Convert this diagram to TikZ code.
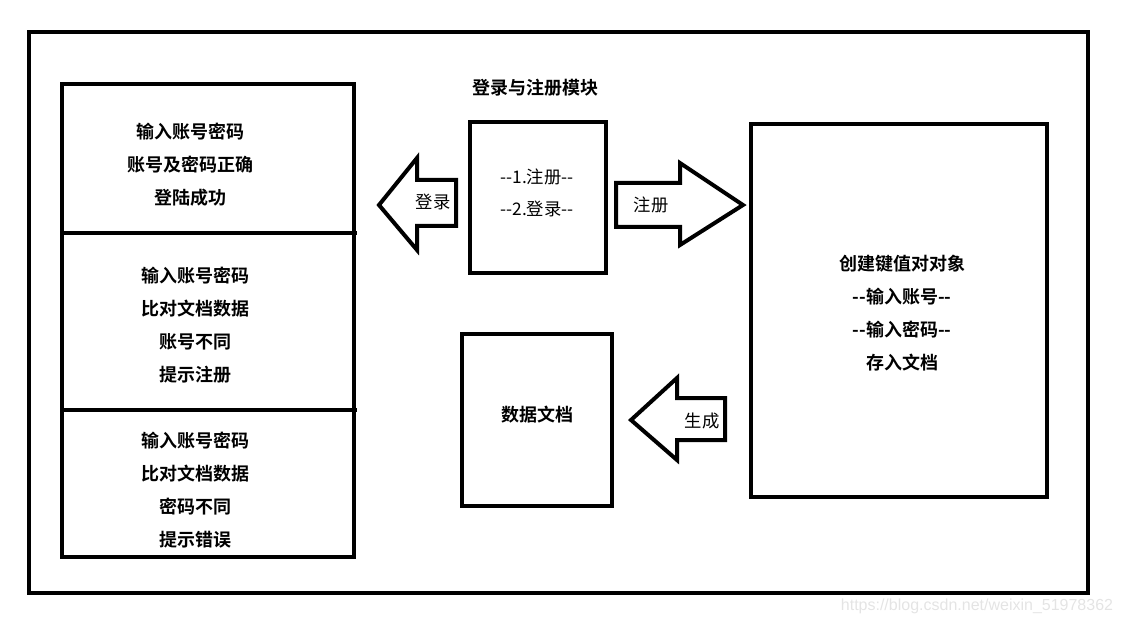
\documentclass[tikz,border=0pt]{standalone}
\usepackage{fontspec}
\usepackage{tikz}
\newfontfamily\cjk{Noto Sans CJK SC}
\newfontfamily\cjkbold{Noto Sans CJK SC Bold}
\newfontfamily\wmfont{Liberation Sans}
\definecolor{wmgray}{RGB}{228,228,228}

\begin{document}
\begin{tikzpicture}[x=0.75pt,y=-0.75pt,
  frame/.style={draw,line width=3pt},
  boxtxt/.style={font=\cjkbold\fontsize{13.5}{15}\selectfont,align=center,inner sep=0pt},
  lbl/.style={font=\cjk\fontsize{13}{15}\selectfont,inner sep=0pt},
  bigarrow/.style={draw,line width=3pt,line join=miter,fill=white}]
\useasboundingbox (0,0) rectangle (1121,624);
% outer frame
\draw[frame] (29,32) rectangle (1088,593);
% left column
\draw[frame] (62,84) rectangle (354,557);
\draw[frame] (62,233)--(357,233);
\draw[frame] (62,410)--(357,410);
\node[boxtxt] (ok) at (190,165) {输入账号密码\\[9.8pt]账号及密码正确\\[9.8pt]登陆成功};
\node[boxtxt] (noacc) at (195,325) {输入账号密码\\[9.8pt]比对文档数据\\[9.8pt]账号不同\\[9.8pt]提示注册};
\node[boxtxt] (nopwd) at (195,490) {输入账号密码\\[9.8pt]比对文档数据\\[9.8pt]密码不同\\[9.8pt]提示错误};
% menu
\node[boxtxt] (title) at (535,88) {登录与注册模块};
\draw[frame] (470,122) rectangle (606,273);
\node[lbl,align=center] (menu) at (537,193) {-{}-1.注册-{}-\\[9pt]-{}-2.登录-{}-};
% login arrow
\draw[bigarrow] (379,205)--(417,158)--(417,180)--(456,180)--(456,226)--(417,226)--(417,250)--cycle;
\node[lbl] (login) at (433,202) {登录};
% register arrow
\draw[bigarrow] (743,205)--(680,163)--(680,183)--(616,183)--(616,227)--(680,227)--(680,245)--cycle;
\node[lbl] (reg) at (651,205) {注册};
% object box
\draw[frame] (751,124) rectangle (1047,497);
\node[boxtxt] (obj) at (902,313) {创建键值对对象\\[9.8pt]-{}-输入账号-{}-\\[9.8pt]-{}-输入密码-{}-\\[9.8pt]存入文档};
% data file
\draw[frame] (462,334) rectangle (612,506);
\node[boxtxt] (data) at (537,415) {数据文档};
% generate arrow
\draw[bigarrow] (631,420)--(677,378)--(677,398)--(725,398)--(725,440)--(677,440)--(677,460)--cycle;
\node[lbl] (gen) at (702,421) {生成};
% watermark
\node[font=\wmfont\fontsize{12}{14}\selectfont,text=wmgray,inner sep=0pt] (wm) at (977,606) {https://blog.csdn.net/weixin\_51978362};
\end{tikzpicture}
\end{document}
